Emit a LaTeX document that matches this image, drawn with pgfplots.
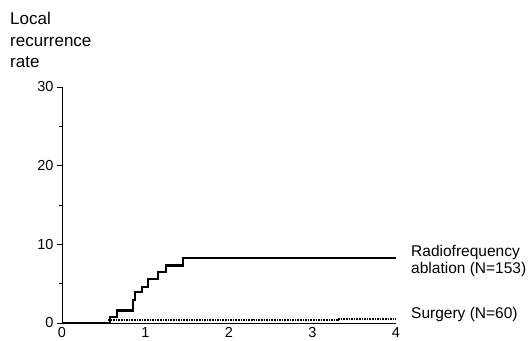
\documentclass[border=0pt]{standalone}
\usepackage{pgfplots}
\pgfplotsset{compat=1.18}
\usepackage{fontspec}
\setmainfont{Liberation Sans}
\begin{document}
\begin{tikzpicture}[x=1pt,y=1pt]
\path[use as bounding box] (0,0) rectangle (532,340);
\begin{axis}[
  at={(62pt,17pt)}, anchor=south west,
  scale only axis, width=334pt, height=236pt,
  xmin=0, xmax=4, ymin=0, ymax=30,
  axis x line*=bottom, axis y line*=left,
  axis line style={line width=0.9pt},
  xtick={0,1,2,3,4}, ytick={0,10,20,30}, minor ytick={5,15,25},
  tick align=outside, major tick length=5pt, minor tick length=3pt,
  x tick style={draw=none},
  y tick style={line width=0.8pt, black},
  tick label style={font=\fontsize{14.5}{15}\selectfont},
  /pgf/number format/assume math mode=true,
  xticklabel style={yshift=4.5pt},
  clip=false,
]
\addplot[const plot, black, line width=2.2pt] coordinates {
  (0,0) (0.575,0.8) (0.655,1.6) (0.854,2.9) (0.87,3.9) (0.954,4.6)
  (1.03,5.6) (1.15,6.5) (1.25,7.3) (1.445,8.3) (4,8.3)
};
\addplot[const plot, black, line width=2pt, dash pattern=on 1.6pt off 1pt] coordinates {
  (0.55,0.35) (2.3,0.4) (3.3,0.5) (4,0.5)
};
\end{axis}
\begin{scope}[every node/.style={inner sep=0pt, anchor=base west, font=\fontsize{17}{20}\selectfont}]
\node at (10,315) {Local};
\node at (10,293) {recurrence};
\node at (10,272) {rate};
\end{scope}
\begin{scope}[every node/.style={inner sep=0pt, anchor=base west, font=\fontsize{15.5}{18}\selectfont}]
\node at (411,84) {Radiofrequency};
\node at (411,67) {ablation (N=153)};
\node at (411,22) {Surgery (N=60)};
\end{scope}
\end{tikzpicture}
\end{document}
